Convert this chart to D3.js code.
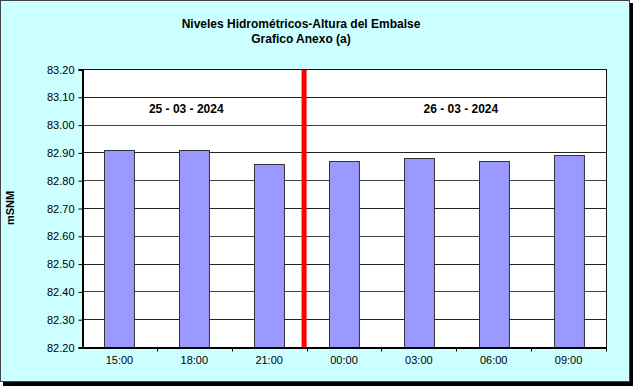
<!DOCTYPE html>
<html>
<head>
<meta charset="utf-8">
<script src="https://cdn.jsdelivr.net/npm/d3@7"></script>
<style>
body { margin: 0; background: #fff; }
svg { display: block; font-family: Arial, "Liberation Sans", sans-serif; }
</style>
</head>
<body>
<div></div>
<script>
var horas = ["15:00", "18:00", "21:00", "00:00", "03:00", "06:00", "09:00"]
var niveles = [82.91, 82.91, 82.86, 82.87, 82.88, 82.87, 82.89]
var yTicks = [82.20, 82.30, 82.40, 82.50, 82.60, 82.70, 82.80, 82.90, 83.00, 83.10, 83.20]
var fechas = ["25 - 03 - 2024", "26 - 03 - 2024"]
var titulo = ["Niveles Hidrométricos-Altura del Embalse", "Grafico Anexo (a)"]
var corte = "00:00"   // change of day

var W = 633, H = 386
var plot = {left: 82, right: 606, top: 69, bottom: 347}

var svg = d3.select("div").append("svg")
  .attr("width", W).attr("height", H)

// shadow + chart area
svg.append("rect").attr("x", 3).attr("y", 3).attr("width", 630).attr("height", 383).attr("fill", "#000")
svg.append("rect").attr("x", 0.5).attr("y", 0.5).attr("width", 629).attr("height", 381)
  .attr("fill", "#CCFFFF").attr("stroke", "#444")

var x = d3.scaleBand().domain(horas).range([plot.left, plot.right])
  .paddingInner(0.6).paddingOuter(0.3)
var y = d3.scaleLinear().domain([82.2, 83.2]).range([plot.bottom, plot.top])
var step = x.step()

svg.append("rect")
  .attr("x", plot.left).attr("y", plot.top)
  .attr("width", plot.right - plot.left).attr("height", plot.bottom - plot.top)
  .attr("fill", "#fff")

// grid
svg.append("g").selectAll("line").data(yTicks.slice(1, -1)).enter().append("line")
  .attr("x1", plot.left).attr("x2", plot.right)
  .attr("y1", d => Math.round(y(d)) + 0.5).attr("y2", d => Math.round(y(d)) + 0.5)
  .attr("stroke", (d, i) => i % 2 ? "#444" : "#222")

// bars
svg.append("g").selectAll("rect").data(niveles).enter().append("rect")
  .attr("x", (d, i) => Math.round(x(horas[i])) + 0.5)
  .attr("y", d => Math.round(y(d)) + 0.5)
  .attr("width", x.bandwidth())
  .attr("height", d => Math.round(plot.bottom - y(d)))
  .attr("fill", "#9999FF").attr("stroke", "#333")

// red day separator
var xCorte = x(corte) - step * 0.3 - 2.5
svg.append("line")
  .attr("x1", xCorte).attr("x2", xCorte)
  .attr("y1", plot.top).attr("y2", plot.bottom)
  .attr("stroke", "#FF0000").attr("stroke-width", 5)

// plot frame
svg.append("rect")
  .attr("x", plot.left + 0.5).attr("y", plot.top + 0.5)
  .attr("width", plot.right - plot.left).attr("height", plot.bottom - plot.top)
  .attr("fill", "none").attr("stroke", "#111")

// y axis
var yAxis = d3.axisLeft(y).tickValues(yTicks).tickFormat(d3.format(".2f")).tickSize(4).tickPadding(4)
var gy = svg.append("g").attr("transform", "translate(" + (plot.left + 0.5) + ",0.5)").call(yAxis)
gy.select(".domain").attr("stroke", "#000").attr("stroke-width", 2)
gy.selectAll("text").attr("font-size", 11).attr("fill", "#000").attr("font-family", "Arial")

// x axis
var xAxis = d3.axisBottom(x).tickSize(0).tickPadding(9)
var gx = svg.append("g").attr("transform", "translate(0," + (plot.bottom + 0.5) + ")").call(xAxis)
gx.select(".domain").attr("stroke", "#000").attr("stroke-width", 2)
gx.selectAll("text").attr("font-size", 11).attr("fill", "#000").attr("font-family", "Arial")
gx.selectAll(".sep").data(horas).enter().append("line").attr("class", "sep")
  .attr("x1", d => Math.round(x(d) + x.bandwidth() + step * 0.3) + 0.5)
  .attr("x2", d => Math.round(x(d) + x.bandwidth() + step * 0.3) + 0.5)
  .attr("y1", 0).attr("y2", 4).attr("stroke", "#000")

// titles
svg.append("g").selectAll("text").data(titulo).enter().append("text")
  .attr("x", 301).attr("y", (d, i) => 28 + i * 15)
  .attr("text-anchor", "middle").attr("font-size", 12).attr("font-weight", "bold")
  .text(d => d)

// dates
svg.append("g").selectAll("text").data(fechas).enter().append("text")
  .attr("x", (d, i) => i == 0 ? x(horas[1]) + x.bandwidth() / 2 - 8 : x(horas[4]) + x.bandwidth() / 2 + 42)
  .attr("y", 113)
  .attr("text-anchor", "middle").attr("font-size", 12).attr("font-weight", "bold")
  .text(d => d)

svg.append("text")
  .attr("transform", "translate(14," + ((plot.top + plot.bottom) / 2) + ") rotate(-90)")
  .attr("text-anchor", "middle").attr("font-size", 11).attr("font-weight", "bold")
  .text("mSNM")
</script>
</body>
</html>
